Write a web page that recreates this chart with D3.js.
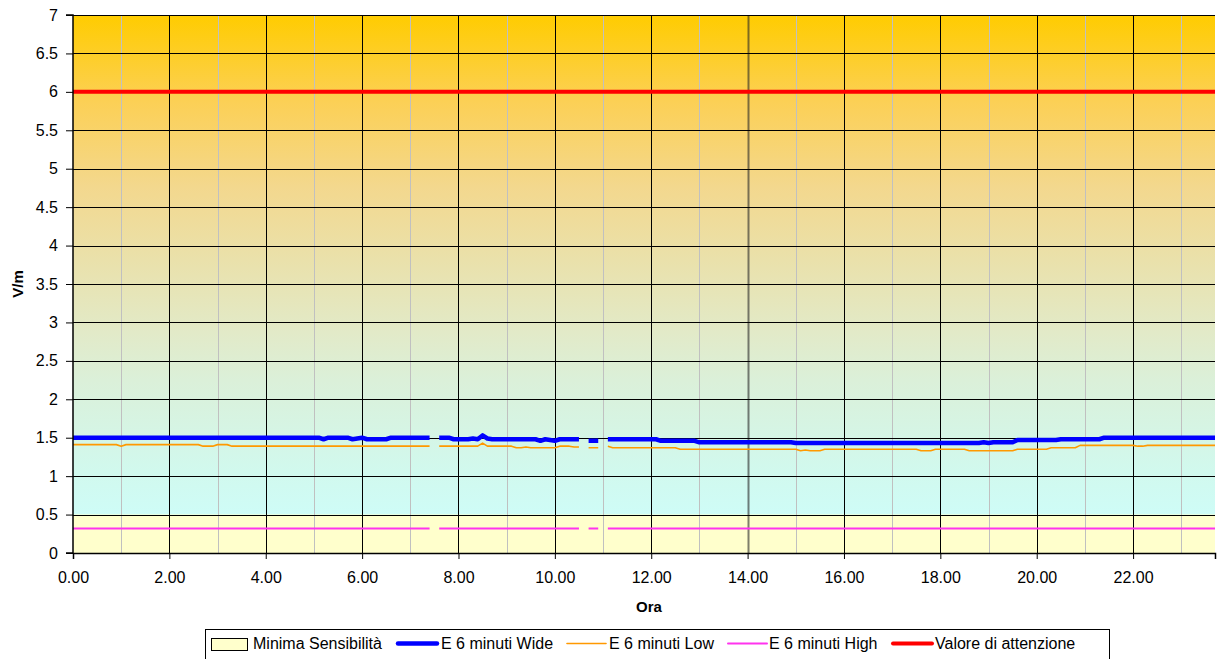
<!DOCTYPE html>
<html>
<head>
<meta charset="utf-8">
<script src="https://cdn.jsdelivr.net/npm/d3@7"></script>
<style>
  html, body { margin: 0; padding: 0; background: #fff; }
  svg { display: block; font-family: "Liberation Sans", Arial, sans-serif; }
</style>
</head>
<body>
<svg id="chart" width="1217" height="659"></svg>
<script>
// ---- Data (hours, V/m); null = missing sample ----
const wideT = [0, 5.1, 5.2, 5.3, 5.7, 5.8, 5.9, 6.0, 6.1, 6.5, 6.6, 7.4, 7.5, 7.6, 7.8, 7.9, 8.2, 8.3, 8.4, 8.5, 8.6, 8.7, 9.6, 9.7, 9.8, 9.9, 10.0, 10.1, 10.5, 10.6, 10.7, 10.9, 11.0, 11.1, 12.1, 12.2, 12.9, 13.0, 14.9, 15.0, 18.8, 18.9, 19.0, 19.1, 19.5, 19.6, 20.4, 20.5, 21.3, 21.4, 23.7];
const wideV = [1.50, 1.50, 1.48, 1.50, 1.50, 1.48, 1.49, 1.50, 1.48, 1.48, 1.50, 1.50, null, 1.50, 1.50, 1.48, 1.48, 1.49, 1.48, 1.53, 1.49, 1.48, 1.48, 1.46, 1.48, 1.47, 1.46, 1.48, 1.48, null, 1.46, 1.46, null, 1.48, 1.48, 1.46, 1.46, 1.44, 1.44, 1.43, 1.43, 1.44, 1.43, 1.44, 1.44, 1.47, 1.47, 1.48, 1.48, 1.50, 1.50];

const lowT = [0, 0.9, 1.0, 1.1, 2.6, 2.7, 2.9, 3.0, 3.2, 3.3, 7.4, 7.5, 7.6, 8.4, 8.5, 8.6, 9.1, 9.2, 9.3, 9.4, 9.5, 10.0, 10.1, 10.3, 10.4, 10.5, 10.6, 10.7, 10.9, 11.0, 11.1, 11.2, 12.5, 12.6, 15.0, 15.1, 15.2, 15.3, 15.5, 15.6, 17.5, 17.6, 17.8, 17.9, 18.5, 18.6, 19.5, 19.6, 20.2, 20.3, 20.8, 20.9, 22.0, 22.1, 22.2, 22.3, 23.7];
const lowV = [1.41, 1.41, 1.39, 1.41, 1.41, 1.39, 1.39, 1.41, 1.41, 1.39, 1.39, null, 1.39, 1.39, 1.43, 1.39, 1.39, 1.37, 1.37, 1.38, 1.37, 1.37, 1.39, 1.39, 1.38, 1.38, null, 1.37, 1.37, null, 1.39, 1.37, 1.37, 1.35, 1.35, 1.33, 1.34, 1.33, 1.33, 1.35, 1.35, 1.33, 1.33, 1.35, 1.35, 1.33, 1.33, 1.35, 1.35, 1.37, 1.37, 1.40, 1.40, 1.39, 1.39, 1.40, 1.40];

const highT = [0, 7.4, 7.5, 7.6, 10.5, 10.6, 10.7, 10.9, 11.0, 11.1, 23.7];
const highV = [0.32, 0.32, null, 0.32, 0.32, null, 0.32, 0.32, null, 0.32, 0.32];

const attT = [0, 23.7];
const attV = [6, 6];

const sensT = [0, 23.7];
const sensV = [0.5, 0.5];

const xTicks = [0, 2, 4, 6, 8, 10, 12, 14, 16, 18, 20, 22];
const yTicks = [0, 0.5, 1, 1.5, 2, 2.5, 3, 3.5, 4, 4.5, 5, 5.5, 6, 6.5, 7];
const legendLabels = ["Minima Sensibilità", "E 6 minuti Wide", "E 6 minuti Low", "E 6 minuti High", "Valore di attenzione"];

// ---- Layout ----
const svg = d3.select("#chart");
const L = 73, R = 1215, T = 15, B = 553;
const x = d3.scaleLinear().domain([0, 23.7]).range([L, R]);
const y = d3.scaleLinear().domain([0, 7]).range([B, T]);

const defs = svg.append("defs");
const grad = defs.append("linearGradient").attr("id", "bg").attr("x1", 0).attr("y1", 0).attr("x2", 0).attr("y2", 1);
[[0, "#FFCC00"], [0.16, "#FCD055"], [0.32, "#F3D88E"], [0.47, "#E9E2AE"], [0.59, "#E2EAC8"],
 [0.68, "#DBF0D9"], [0.85, "#D1F9EE"], [1, "#CCFFFF"]].forEach(([o, c]) =>
  grad.append("stop").attr("offset", o).attr("stop-color", c));

svg.append("rect").attr("x", L).attr("y", T).attr("width", R - L).attr("height", B - T).attr("fill", "url(#bg)");

// Minima Sensibilità area
const zipped = (ts, vs) => ts.map((t, i) => ({ t, v: vs[i] }));
svg.append("path")
  .datum(zipped(sensT, sensV))
  .attr("fill", "#FFFFCC")
  .attr("d", d3.area().x(d => x(d.t)).y0(y(0)).y1(d => y(d.v)));

// Vertical gridlines (minor gray each hour, major black each 2 hours)
const hours = d3.range(1, 24);
svg.append("g").selectAll("line").data(hours.filter(h => h % 2 === 1)).join("line")
  .attr("x1", d => Math.round(x(d)) + 0.5).attr("x2", d => Math.round(x(d)) + 0.5)
  .attr("y1", T).attr("y2", B).attr("stroke", "#C0C0C0").attr("stroke-width", 1);
svg.append("g").selectAll("line").data(xTicks.filter(h => h > 0)).join("line")
  .attr("x1", d => Math.round(x(d)) + 0.5).attr("x2", d => Math.round(x(d)) + 0.5)
  .attr("y1", T).attr("y2", B)
  .attr("stroke", d => d === 14 ? "rgba(40,40,40,0.6)" : "#000")
  .attr("stroke-width", d => d === 14 ? 2 : 1);

// Horizontal gridlines
svg.append("g").selectAll("line").data(yTicks.filter(v => v > 0)).join("line")
  .attr("x1", L).attr("x2", R)
  .attr("y1", d => Math.round(y(d)) + 0.5).attr("y2", d => Math.round(y(d)) + 0.5)
  .attr("stroke", "#000").attr("stroke-width", 1);

// Series lines
const line = d3.line().defined(d => d.v !== null).x(d => x(d.t)).y(d => y(d.v));
function drawSeries(ts, vs, color, w) {
  svg.append("path").datum(zipped(ts, vs))
    .attr("fill", "none").attr("stroke", color).attr("stroke-width", w)
    .attr("stroke-linejoin", "round")
    .attr("d", line);
}
drawSeries(highT, highV, "#FF33EE", 2);
drawSeries(lowT, lowV, "#FF9900", 1.6);
drawSeries(wideT, wideV, "#0000FF", 4.5);
drawSeries(attT, attV, "#FF0000", 4);

// Axes
const fmtY = d => d3.format("")(d);
const yAxis = svg.append("g").attr("transform", `translate(${L},0)`)
  .call(d3.axisLeft(y).tickValues(yTicks).tickSize(7).tickPadding(8).tickFormat(fmtY));
const xAxis = svg.append("g").attr("transform", `translate(0,${B})`)
  .call(d3.axisBottom(x).tickValues(xTicks).tickSize(6).tickPadding(13).tickFormat(d3.format(".2f")));
[yAxis, xAxis].forEach(a => {
  a.select(".domain").attr("stroke", "#000").attr("stroke-width", 1.5);
  a.selectAll(".tick line").attr("stroke", "#000");
  a.selectAll(".tick text").attr("font-size", 16).attr("fill", "#000").attr("font-family", "Liberation Sans, Arial, sans-serif");
});
yAxis.select(".domain").attr("d", `M-7,${T}H0V${B}H-7`);

// Axis titles
svg.append("text").attr("x", (L + R) / 2 + 5).attr("y", 612).attr("text-anchor", "middle")
  .attr("font-weight", "bold").attr("font-size", 15).text("Ora");
svg.append("text").attr("transform", `translate(23,284) rotate(-90)`).attr("text-anchor", "middle")
  .attr("font-weight", "bold").attr("font-size", 15).text("V/m");

// Legend
const lg = svg.append("g");
lg.append("rect").attr("x", 205.5).attr("y", 629.5).attr("width", 904).attr("height", 32)
  .attr("fill", "#fff").attr("stroke", "#000").attr("stroke-width", 1);
const items = [
  { type: "box", color: "#FFFFCC", sx: 211, tx: 253 },
  { type: "line", color: "#0000FF", w: 4.5, sx: 398, tx: 441 },
  { type: "line", color: "#FF9900", w: 1.6, sx: 567, tx: 609 },
  { type: "line", color: "#FF33EE", w: 2, sx: 728, tx: 769 },
  { type: "line", color: "#FF0000", w: 4, sx: 893, tx: 935 }
];
items.forEach((it, i) => {
  if (it.type === "box") {
    lg.append("rect").attr("x", it.sx + 0.5).attr("y", 638.5).attr("width", 36).attr("height", 12)
      .attr("fill", it.color).attr("stroke", "#000").attr("stroke-width", 1);
  } else {
    lg.append("line").attr("x1", it.sx).attr("x2", it.sx + 39).attr("y1", 643.5).attr("y2", 643.5)
      .attr("stroke", it.color).attr("stroke-width", it.w).attr("stroke-linecap", "round");
  }
  lg.append("text").attr("x", it.tx).attr("y", 649).attr("font-size", 16).text(legendLabels[i]);
});
</script>
</body>
</html>
